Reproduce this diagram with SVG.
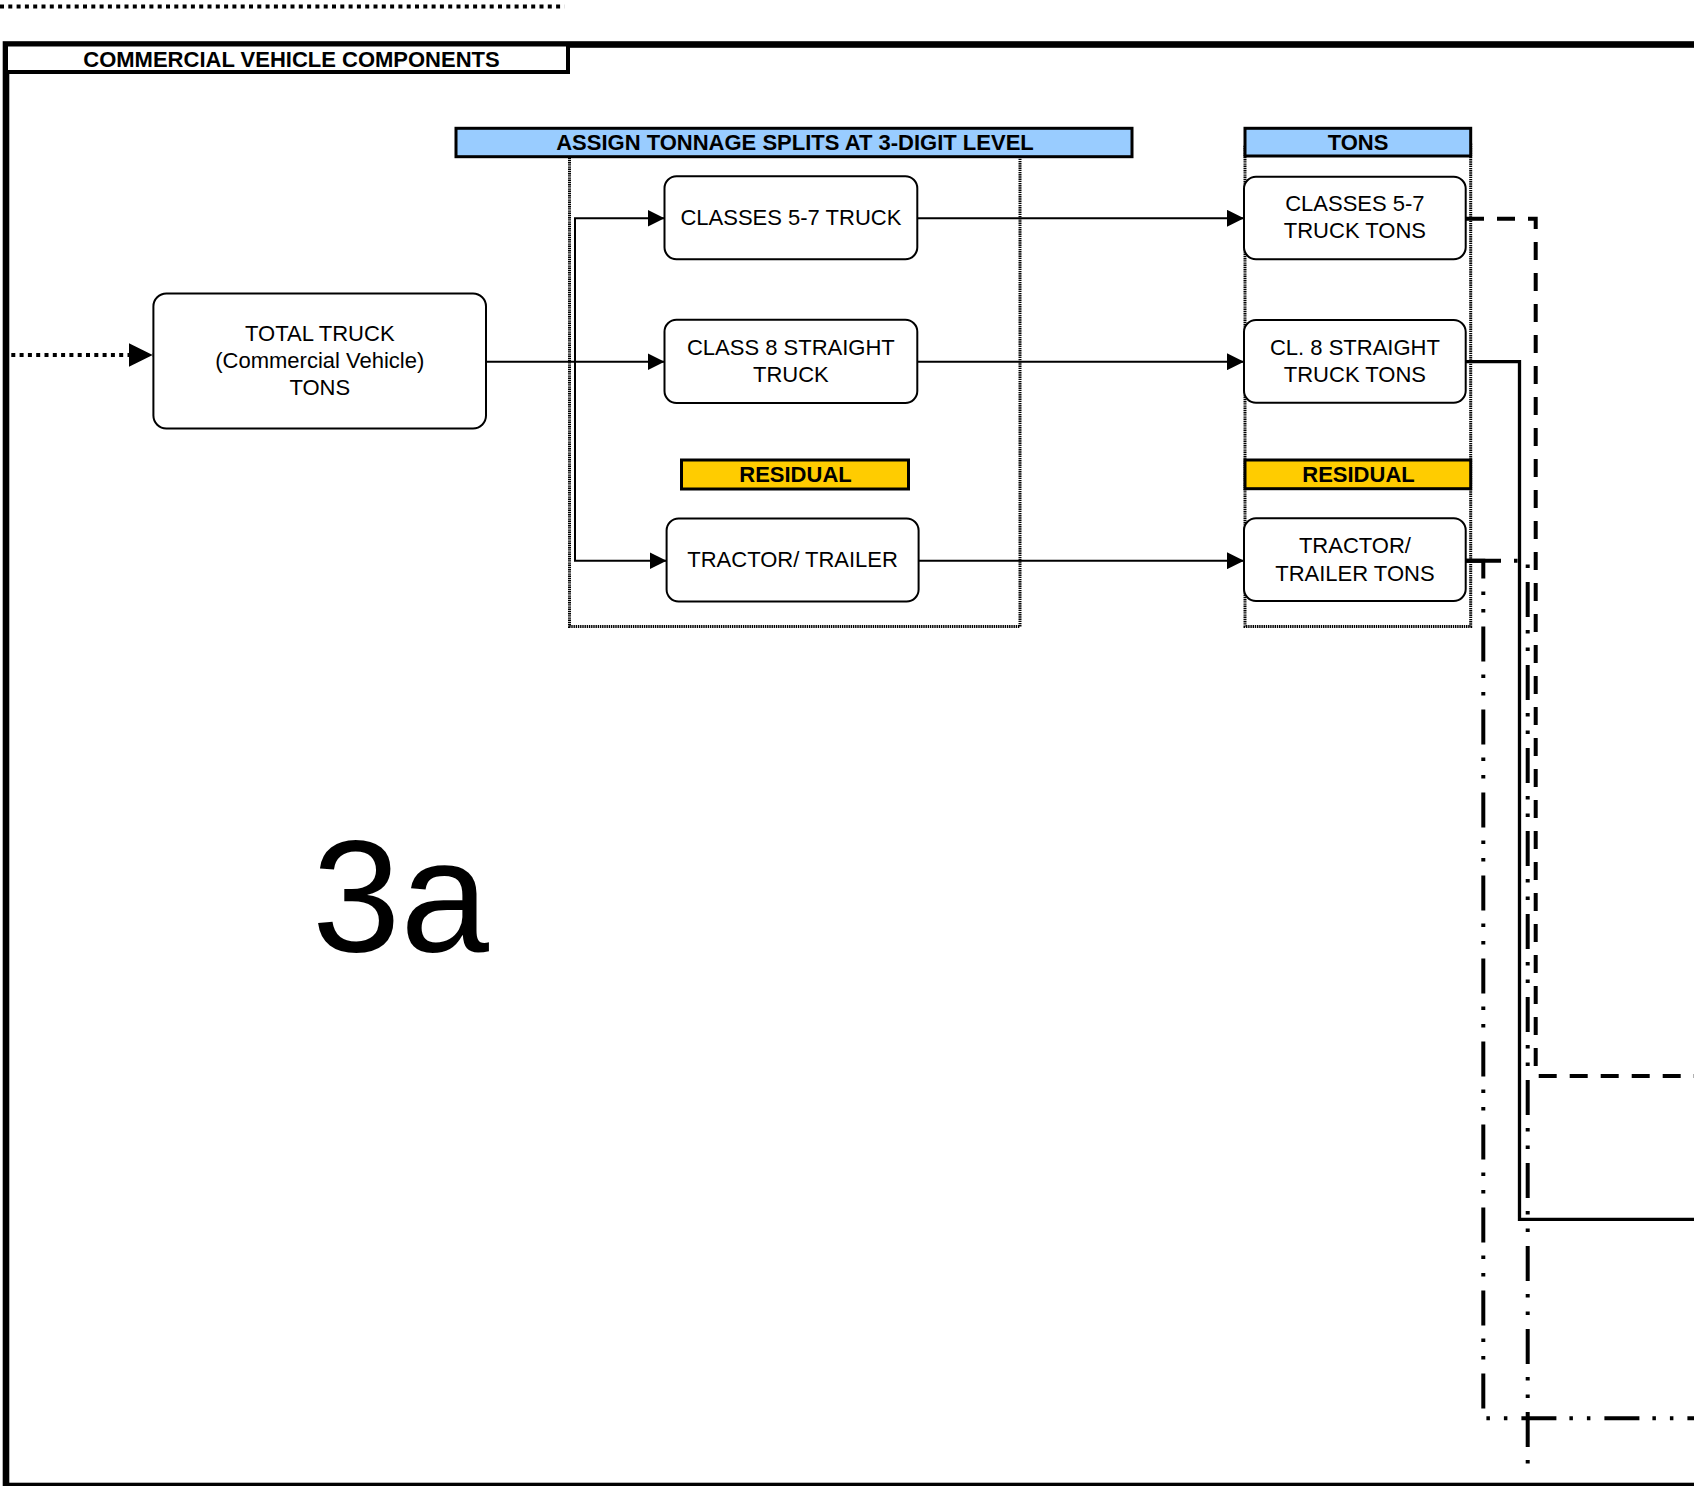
<svg xmlns="http://www.w3.org/2000/svg" width="1694" height="1486" viewBox="0 0 1694 1486">
<style>
text{font-family:"Liberation Sans",Arial,sans-serif;font-size:22px;fill:#000;text-anchor:middle}
.b{font-weight:bold}
.box{fill:#fff;stroke:#000;stroke-width:2}
.hdr{stroke:#000;stroke-width:3}
.blue{fill:#99CCFF}
.yel{fill:#FFCC00}
.grp{fill:none;stroke:#000;stroke-width:3;stroke-dasharray:1.4 0.8}
.conn{fill:none;stroke:#000;stroke-width:2}
.ddot{fill:none;stroke:#000;stroke-width:4;stroke-dasharray:35 13 3.5 14 3.5 14}
.dash{fill:none;stroke:#000;stroke-width:4;stroke-dasharray:18 13}
.sol{fill:none;stroke:#000;stroke-width:3.3}
.dots{fill:none;stroke:#000;stroke-width:4;stroke-dasharray:4 4.3}
</style>
<defs>
<marker id="arr" markerUnits="userSpaceOnUse" markerWidth="17" markerHeight="17" viewBox="0 0 17 17" refX="17" refY="8.5" orient="auto"><path d="M0,0 L17,8.5 L0,17 z" fill="#000"/></marker>
<marker id="arrBig" markerUnits="userSpaceOnUse" markerWidth="24" markerHeight="24" viewBox="0 0 24 24" refX="24" refY="12" orient="auto"><path d="M0,0 L24,12 L0,24 z" fill="#000"/></marker>
</defs>

<!-- top dotted line -->
<path class="dots" d="M0,6.5 H564.5" stroke-width="3.5"/>

<!-- outer frame -->
<g id="frame">
<rect x="6" y="44.5" width="1700" height="1441.5" fill="none" stroke="#000" stroke-width="6.6"/>
<rect x="6" y="44.5" width="562" height="27.5" fill="#fff" stroke="#000" stroke-width="4"/>
<text class="b" x="291.5" y="66.5">COMMERCIAL VEHICLE COMPONENTS</text>
</g>

<!-- group outlines -->
<g id="groups">
<rect class="grp" x="569.5" y="145" width="450.5" height="481.6"/>
<rect class="grp" x="1245" y="145" width="225.7" height="481.6"/>
</g>

<!-- connectors -->
<g id="connectors">
<path class="dots" d="M3,355 H152.7" marker-end="url(#arrBig)"/>
<path class="conn" d="M486,361.7 H664.5" marker-end="url(#arr)"/>
<path class="conn" d="M575,361.7 V218.3 H664.5" marker-end="url(#arr)"/>
<path class="conn" d="M575,361.7 V560.7 H666.6" marker-end="url(#arr)"/>
<path class="conn" d="M917.3,218.3 H1244" marker-end="url(#arr)"/>
<path class="conn" d="M917.3,361.7 H1244" marker-end="url(#arr)"/>
<path class="conn" d="M918.6,560.7 H1244" marker-end="url(#arr)"/>
<path class="dash" d="M1466,218.7 H1535.7 V1076 H1700"/>
<path class="sol" d="M1466,361.7 H1519.5 V1219.3 H1700"/>
<path class="ddot" d="M1466,560.7 H1483.3 V1418.3 H1700"/>
<path class="ddot" d="M1466,560.7 H1527.7 V1476"/>
</g>

<!-- headers -->
<g id="hdr-assign"><rect class="hdr blue" x="456" y="128.3" width="676" height="28.4"/><text class="b" x="795" y="150">ASSIGN TONNAGE SPLITS AT 3-DIGIT LEVEL</text></g>
<g id="hdr-tons"><rect class="hdr blue" x="1245" y="128.3" width="225.7" height="27.7"/><text class="b" x="1358" y="150">TONS</text></g>
<g id="hdr-residual-1"><rect class="hdr yel" x="681.5" y="460" width="227" height="29"/><text class="b" x="795.5" y="482">RESIDUAL</text></g>
<g id="hdr-residual-2"><rect class="hdr yel" x="1245" y="460" width="225.7" height="28.7"/><text class="b" x="1358.5" y="482">RESIDUAL</text></g>

<!-- nodes -->
<g id="total-truck"><rect class="box" x="153.4" y="293.5" width="332.6" height="135" rx="13"/>
<text x="319.8" y="341">TOTAL TRUCK</text><text x="319.8" y="368">(Commercial Vehicle)</text><text x="319.8" y="395">TONS</text></g>
<g id="classes57"><rect class="box" x="664.5" y="176.3" width="252.8" height="83" rx="12"/><text x="790.9" y="225">CLASSES 5-7 TRUCK</text></g>
<g id="class8"><rect class="box" x="664.5" y="319.8" width="252.8" height="83.2" rx="12"/><text x="790.9" y="354.5">CLASS 8 STRAIGHT</text><text x="790.9" y="382">TRUCK</text></g>
<g id="tractor-trailer"><rect class="box" x="666.6" y="518.5" width="252" height="83" rx="12"/><text x="792.6" y="566.5">TRACTOR/ TRAILER</text></g>
<g id="classes57-tons"><rect class="box" x="1244" y="176.7" width="221.7" height="82.6" rx="12"/><text x="1354.9" y="210.5">CLASSES 5-7</text><text x="1354.9" y="238">TRUCK TONS</text></g>
<g id="class8-tons"><rect class="box" x="1244" y="320" width="221.7" height="82.7" rx="12"/><text x="1354.9" y="354.5">CL. 8 STRAIGHT</text><text x="1354.9" y="382">TRUCK TONS</text></g>
<g id="tractor-trailer-tons"><rect class="box" x="1244" y="518.3" width="221.7" height="82.7" rx="12"/><text x="1354.9" y="552.5">TRACTOR/</text><text x="1354.9" y="580.5">TRAILER TONS</text></g>

<text x="312" y="951" style="font-size:159px;text-anchor:start">3a</text>
</svg>
